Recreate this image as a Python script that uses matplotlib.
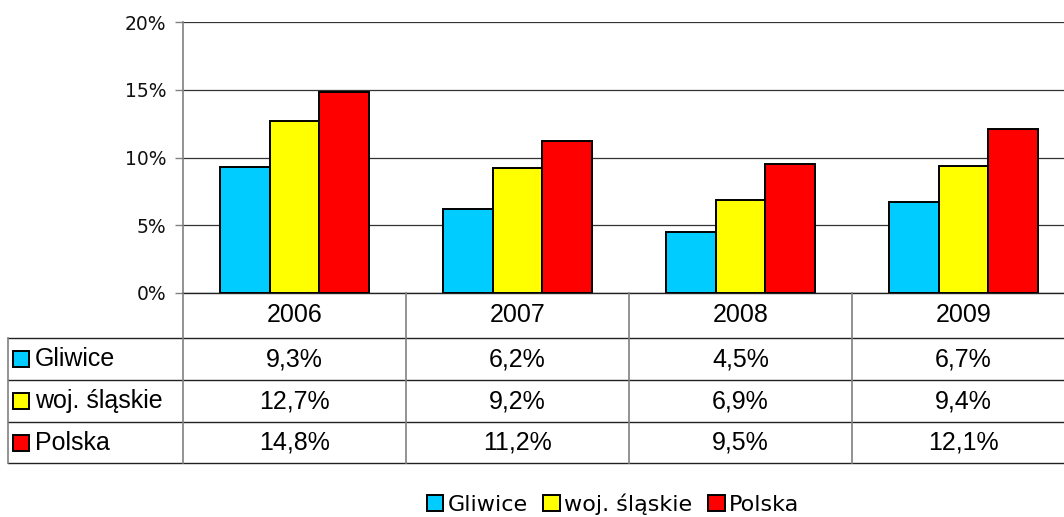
import matplotlib
matplotlib.use("Agg")
import matplotlib.pyplot as plt
from matplotlib.lines import Line2D
from matplotlib.patches import Rectangle
from matplotlib.ticker import FuncFormatter

years = ["2006", "2007", "2008", "2009"]
series_names = ["Gliwice", "woj. śląskie", "Polska"]
gliwice = [9.3, 6.2, 4.5, 6.7]
slaskie = [12.7, 9.2, 6.9, 9.4]
polska = [14.8, 11.2, 9.5, 12.1]
yticks = [0, 5, 10, 15, 20]
colors = ["#00CCFF", "#FFFF00", "#FF0000"]
series = [gliwice, slaskie, polska]

W, H = 1064, 517
fig = plt.figure(figsize=(W / 100, H / 100), dpi=100)

def fx(x):
    return x / W

def fy(y):
    return 1 - y / H

ax_l, ax_r, ax_t, ax_b = 183, 1075, 22, 293
ax = fig.add_axes([fx(ax_l), fy(ax_b), fx(ax_r - ax_l), (ax_b - ax_t) / H])
ax.set_xlim(-0.5, 3.5)
ax.set_ylim(0, 20)

bw = 0.224
for i, (vals, c) in enumerate(zip(series, colors)):
    xs = [k + (i - 1) * bw for k in range(len(years))]
    ax.bar(xs, vals, width=bw, color=c, edgecolor="black", linewidth=1.4, zorder=3)

ax.set_yticks(yticks)
ax.yaxis.set_major_formatter(FuncFormatter(lambda v, p: f"{int(v)}%"))
ax.tick_params(axis="y", direction="out", length=6, width=1, color="#808080",
               labelsize=13.5, pad=6, labelcolor="#111111")
for lab in ax.get_yticklabels():
    lab.set_family("DejaVu Sans")
ax.set_xticks([])
ax.grid(axis="y", color="#333333", linewidth=0.9, zorder=0)
for s in ["top", "right"]:
    ax.spines[s].set_visible(False)
ax.spines["left"].set_color("#808080")
ax.spines["left"].set_linewidth(1.2)
ax.spines["bottom"].set_color("#222222")
ax.spines["bottom"].set_linewidth(1.0)

# table
tfont = "Liberation Sans"
tsize = 18
row_lines = [338, 380, 422, 463]
col_w = (ax_r - ax_l) / len(years)
col_edges = [ax_l + k * col_w for k in range(len(years) + 1)]

def hline(y, x0, x1, color="#222222"):
    fig.add_artist(Line2D([fx(x0), fx(x1)], [fy(y), fy(y)], color=color, lw=1.0,
                          transform=fig.transFigure))

def vline(x, y0, y1, color="#808080"):
    fig.add_artist(Line2D([fx(x), fx(x)], [fy(y0), fy(y1)], color=color, lw=1.2,
                          transform=fig.transFigure))

for y in row_lines:
    hline(y, 8, ax_r)
vline(8, 338, 463)
for x in col_edges:
    vline(x, ax_b, 463)

header_y = (ax_b + row_lines[0]) / 2
for k, yr in enumerate(years):
    cx = (col_edges[k] + col_edges[k + 1]) / 2
    fig.text(fx(cx), fy(header_y), yr, ha="center", va="center", fontsize=tsize,
             family=tfont)

for r, (name, vals, c) in enumerate(zip(series_names, series, colors)):
    y0 = row_lines[r]
    y1 = row_lines[r + 1]
    cy = (y0 + y1) / 2
    fig.add_artist(Rectangle((fx(13), fy(cy + 8)), 16 / W, 16 / H, facecolor=c,
                             edgecolor="black", lw=1.4, transform=fig.transFigure))
    fig.text(fx(35), fy(cy), name, ha="left", va="center", fontsize=tsize, family=tfont)
    for k, v in enumerate(vals):
        cx = (col_edges[k] + col_edges[k + 1]) / 2
        fig.text(fx(cx), fy(cy), f"{v:.1f}".replace(".", ",") + "%", ha="center",
                 va="center", fontsize=tsize, family=tfont)

# bottom legend
handles = [Rectangle((0, 0), 1, 1, facecolor=c, edgecolor="black", lw=1.4) for c in colors]
fig.legend(handles, series_names, loc="center", bbox_to_anchor=(fx(613), fy(504)),
           ncol=3, frameon=False, handlelength=0.75, handleheight=0.75,
           handletextpad=0.2, columnspacing=0.7, prop={"family": "DejaVu Sans", "size": 16})

fig.savefig("out.png", dpi=100, facecolor="white")
